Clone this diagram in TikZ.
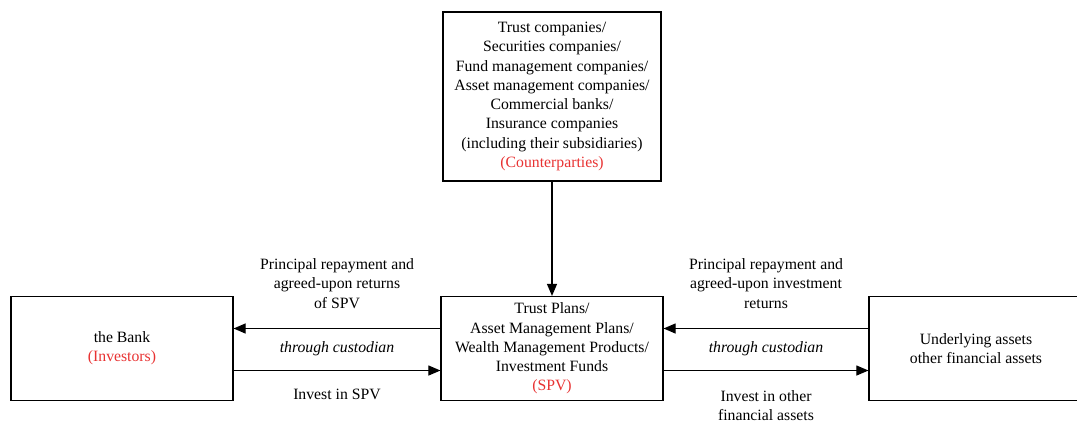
\documentclass[tikz,border=0pt]{standalone}
\usepackage{fontspec}
\setmainfont{Liberation Serif}
\usetikzlibrary{arrows.meta}
\definecolor{partyred}{RGB}{232,50,50}

\begin{document}
\begin{tikzpicture}[x=0.025cm,y=-0.025cm,font=\fontsize{11.2}{13.7}\selectfont,
  box/.style={draw,line width=0.8pt,rectangle,align=center,minimum width=#1,minimum height=2.6cm,inner sep=2pt},
  flow/.style={line width=0.8pt,-{Triangle[length=0.3cm,width=0.25cm]}},
  lbl/.style={align=center,inner sep=0pt}]
%\draw[help lines] (0,0) grid[step=50] (1077,422);
\useasboundingbox (0,0) rectangle (1077,422);

\node[box=5.45cm,minimum height=4.225cm] (counter) at (552,96.5)
  {Trust companies/\\Securities companies/\\Fund management companies/\\Asset management companies/\\Commercial banks/\\Insurance companies\\(including their subsidiaries)\\\textcolor{partyred}{(Counterparties)}};
\node[box=5.55cm] (bank) at (122,348.5) {the Bank\\\textcolor{partyred}{(Investors)}};
\node[box=5.55cm] (spv) at (552,348.5)
  {Trust Plans/\\Asset Management Plans/\\Wealth Management Products/\\Investment Funds\\\textcolor{partyred}{(SPV)}};
\node[box=5.35cm] (assets) at (976,348.5) {Underlying assets\\other financial assets};

\draw[flow] (counter) -- (spv);

% returns flow back, investments flow forward
\draw[flow] ([yshift=0.5cm]spv.west) -- ([yshift=0.5cm]bank.east)
  node[lbl,midway,yshift=1.125cm] {Principal repayment and\\agreed-upon returns\\of SPV}
  node[lbl,midway,yshift=-0.5cm] {\itshape through custodian};
\draw[flow] ([yshift=-0.55cm]bank.east) -- ([yshift=-0.55cm]spv.west)
  node[lbl,midway,yshift=-0.6cm] {Invest in SPV};
\draw[flow] ([yshift=0.5cm]assets.west) -- ([yshift=0.5cm]spv.east)
  node[lbl,midway,yshift=1.125cm] {Principal repayment and\\agreed-upon investment\\returns}
  node[lbl,midway,yshift=-0.5cm] {\itshape through custodian};
\draw[flow] ([yshift=-0.55cm]spv.east) -- ([yshift=-0.55cm]assets.west)
  node[lbl,midway,yshift=-0.875cm] {Invest in other\\financial assets};
\end{tikzpicture}
\end{document}
